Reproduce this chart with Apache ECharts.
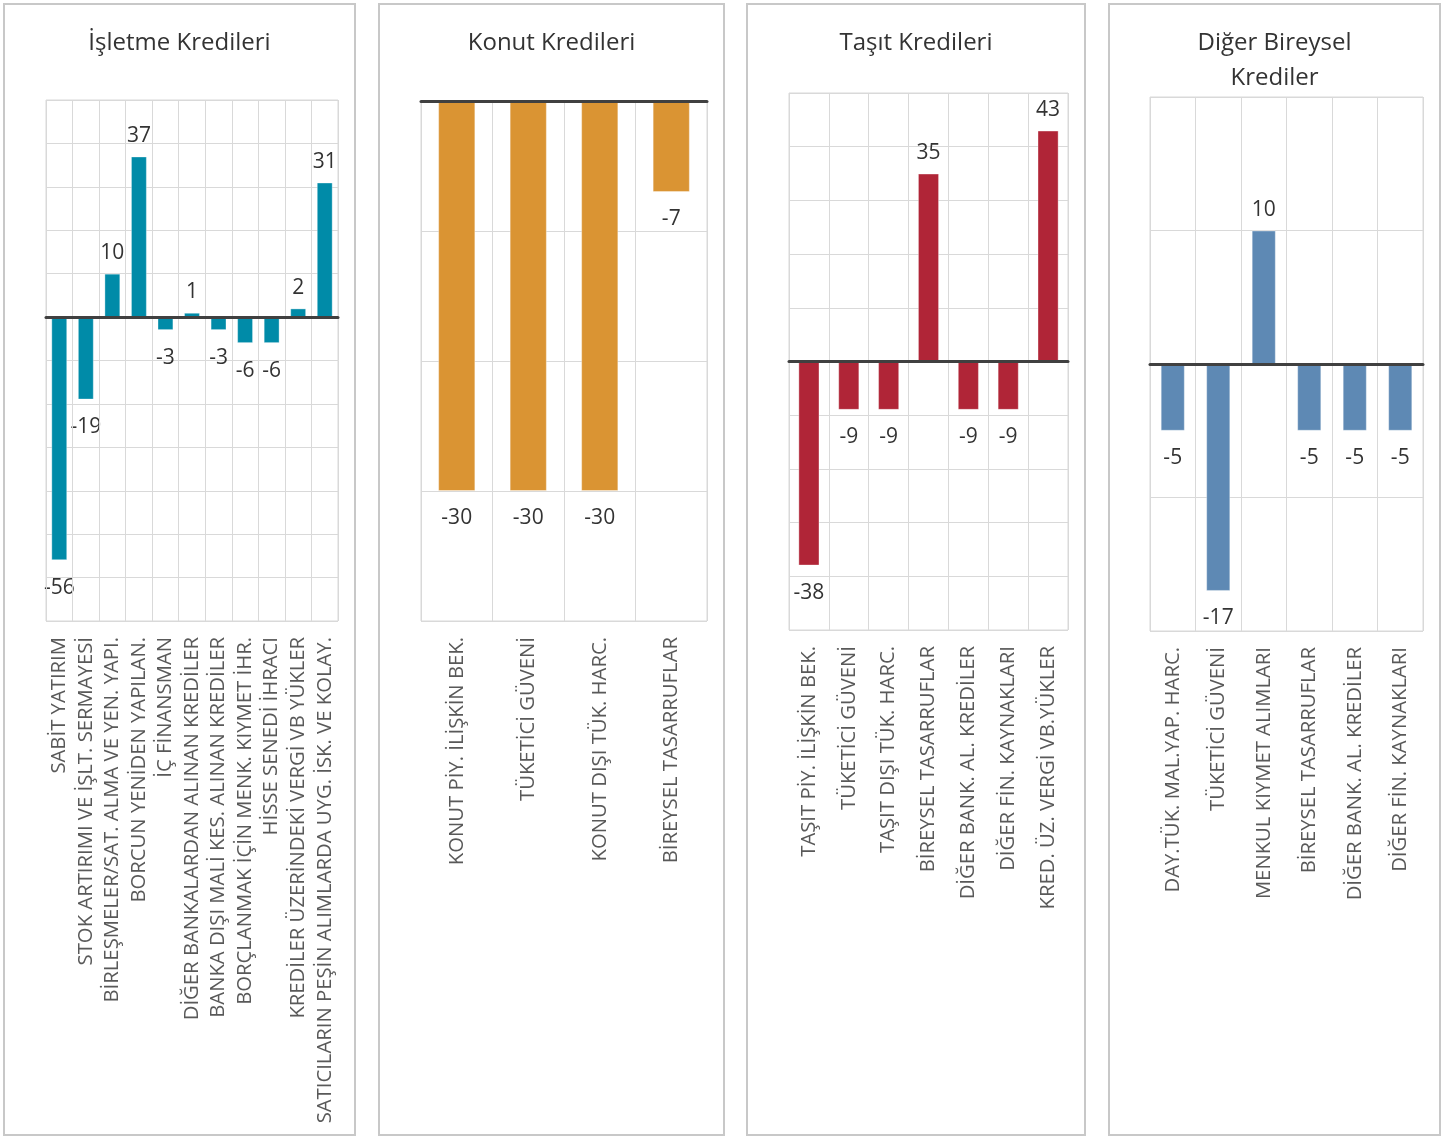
<!DOCTYPE html>
<html>
<head>
<meta charset="utf-8">
<script src="https://cdn.jsdelivr.net/npm/echarts@6/dist/echarts.min.js"></script>
<style>
  body{margin:0;background:#fff;width:1447px;height:1137px;position:relative;overflow:hidden;}
  .chart{position:absolute;}
  .frame{position:absolute;border:2px solid #c8c8c8;box-sizing:border-box;pointer-events:none;}
</style>
</head>
<body>
<div id="c1" class="chart" style="left:3px;top:3px;width:353px;height:1133px"></div>
<div id="c2" class="chart" style="left:378px;top:3px;width:347px;height:1133px"></div>
<div id="c3" class="chart" style="left:746px;top:3px;width:340px;height:1133px"></div>
<div id="c4" class="chart" style="left:1108px;top:3px;width:333px;height:1133px"></div>
<div class="frame" style="left:3px;top:3px;width:353px;height:1133px"></div>
<div class="frame" style="left:378px;top:3px;width:347px;height:1133px"></div>
<div class="frame" style="left:746px;top:3px;width:340px;height:1133px"></div>
<div class="frame" style="left:1108px;top:3px;width:333px;height:1133px"></div>
<script>
// İşletme Kredileri
const isletme_categories = ["SABİT YATIRIM", "STOK ARTIRIMI VE İŞLT. SERMAYESİ", "BİRLEŞMELER/SAT. ALMA VE YEN. YAPI.", "BORCUN YENİDEN YAPILAN.", "İÇ FİNANSMAN", "DİĞER BANKALARDAN ALINAN KREDİLER", "BANKA DIŞI MALİ KES. ALINAN KREDİLER", "BORÇLANMAK İÇİN MENK. KIYMET İHR.", "HİSSE SENEDİ İHRACI", "KREDİLER ÜZERİNDEKİ VERGİ VB YÜKLER", "SATICILARIN PEŞİN ALIMLARDA UYG. İSK. VE KOLAY."];
const isletme_values = [-56, -19, 10, 37, -3, 1, -3, -6, -6, 2, 31];

// Konut Kredileri
const konut_categories = ["KONUT PİY. İLİŞKİN BEK.", "TÜKETİCİ GÜVENİ", "KONUT DIŞI TÜK. HARC.", "BİREYSEL TASARRUFLAR"];
const konut_values = [-30, -30, -30, -7];

// Taşıt Kredileri
const tasit_categories = ["TAŞIT PİY. İLİŞKİN BEK.", "TÜKETİCİ GÜVENİ", "TAŞIT DIŞI TÜK. HARC.", "BİREYSEL TASARRUFLAR", "DİĞER BANK. AL. KREDİLER", "DİĞER FİN. KAYNAKLARI", "KRED. ÜZ. VERGİ VB.YÜKLER"];
const tasit_values = [-38, -9, -9, 35, -9, -9, 43];

// Diğer Bireysel Krediler
const diger_categories = ["DAY.TÜK. MAL.YAP. HARC.", "TÜKETİCİ GÜVENİ", "MENKUL KIYMET ALIMLARI", "BİREYSEL TASARRUFLAR", "DİĞER BANK. AL. KREDİLER", "DİĞER FİN. KAYNAKLARI"];
const diger_values = [-5, -17, 10, -5, -5, -5];

const font = "'Open Sans', sans-serif";

function panel_option({title, categories, values, color, min, max, grid, bar_width}){
  return {
    animation: false,
    title: {
      text: title,
      left: 'center',
      top: 18,
      textStyle: {fontFamily: font, fontSize: 24, fontWeight: 'normal', color: '#333333', lineHeight: 35}
    },
    grid: {...grid, show: true, borderColor: '#d9d9d9', borderWidth: 1, containLabel: false},
    xAxis: {
      type: 'category',
      data: categories,
      axisLine: {show: true, onZero: true, lineStyle: {color: '#404040', width: 3}},
      axisTick: {show: false},
      splitLine: {show: true, lineStyle: {color: '#d9d9d9', width: 1}},
      axisLabel: {
        interval: 0, rotate: 90, margin: 16,
        fontFamily: font, fontSize: 20.3, color: '#595959'
      },
      z: 5
    },
    yAxis: {
      type: 'value',
      min, max, interval: 10,
      axisLabel: {show: false},
      axisLine: {show: false},
      axisTick: {show: false},
      splitLine: {lineStyle: {color: '#d9d9d9', width: 1}}
    },
    series: [{
      type: 'bar',
      barWidth: bar_width,
      data: values.map(v => ({
        value: v,
        label: v < 0 ? {position: 'bottom', distance: 17} : {position: 'top', distance: 10}
      })),
      itemStyle: {color, borderColor: 'rgba(255,255,255,0.35)', borderWidth: 1},
      label: {
        show: true,
        fontFamily: font, fontSize: 21, color: '#333333'
      },
      z: 2
    }]
  };
}

const panels = [
  {id: 'c1', title: 'İşletme Kredileri', categories: isletme_categories, values: isletme_values, color: '#008ba8', min: -70, max: 50, grid: {left: 43, top: 97, width: 292, height: 521}, bar_width: '60%'},
  {id: 'c2', title: 'Konut Kredileri', categories: konut_categories, values: konut_values, color: '#da9433', min: -40, max: 0, grid: {left: 43, top: 98, width: 286, height: 520}, bar_width: '52%'},
  {id: 'c3', title: 'Taşıt Kredileri', categories: tasit_categories, values: tasit_values, color: '#b02537', min: -50, max: 50, grid: {left: 43, top: 90, width: 279, height: 537}, bar_width: '53%'},
  {id: 'c4', title: 'Diğer Bireysel\nKrediler', categories: diger_categories, values: diger_values, color: '#5e89b4', min: -20, max: 20, grid: {left: 42, top: 94, width: 273, height: 534}, bar_width: '53%'}
];

panels.forEach(p => {
  let chart = echarts.init(document.getElementById(p.id), null, {renderer: 'canvas'});
  chart.setOption(panel_option(p));
});
</script>
</body>
</html>
